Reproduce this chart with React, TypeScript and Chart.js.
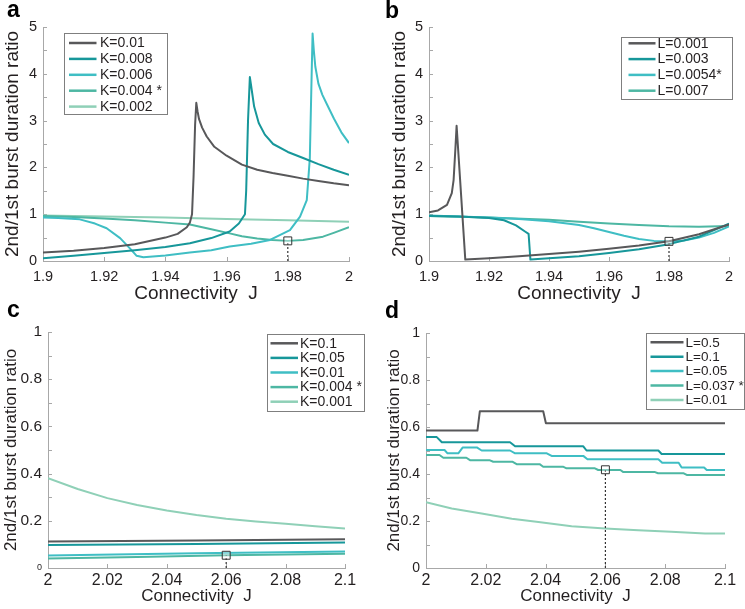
import React, { useEffect, useRef } from 'react';
import { Chart, registerables } from 'chart.js';

Chart.register(...registerables);

const FONT = '"Liberation Sans", Arial, sans-serif';
const INK = '#231f20';
const AXIS = '#a8a8a8';
const C_GRAY = '#58585a';
const C_TEAL = '#17979a';
const C_CYAN = '#3fbec4';
const C_GREEN = '#4db7a3';
const C_MINT = '#8fd0b7';

// ---------------- Panel a (K series) ----------------
const aJ_K0010 = [1.9, 1.91, 1.92, 1.93, 1.94, 1.944, 1.947, 1.948, 1.9487, 1.9492, 1.9497, 1.9501, 1.9505, 1.951, 1.952, 1.9535, 1.956, 1.96, 1.965, 1.97, 1.975, 1.98, 1.985, 1.99, 1.995, 2.0];
const aR_K0010 = [0.18, 0.22, 0.28, 0.36, 0.5, 0.58, 0.72, 0.82, 1.0, 1.8, 2.9, 3.38, 3.2, 3.03, 2.85, 2.66, 2.44, 2.25, 2.06, 1.95, 1.88, 1.82, 1.76, 1.71, 1.66, 1.62];
const aJ_K0008 = [1.9, 1.91, 1.92, 1.93, 1.94, 1.948, 1.955, 1.961, 1.964, 1.966, 1.9664, 1.967, 1.9676, 1.968, 1.969, 1.9705, 1.9725, 1.9752, 1.98, 1.985, 1.99, 1.995, 2.0];
const aR_K0008 = [0.06, 0.11, 0.17, 0.23, 0.3, 0.38, 0.49, 0.63, 0.8, 1.0, 1.5, 3.0, 3.93, 3.75, 3.3, 2.95, 2.7, 2.5, 2.33, 2.2, 2.07, 1.95, 1.84];
const aJ_K0006 = [1.9, 1.905, 1.912, 1.917, 1.9208, 1.9252, 1.9284, 1.9306, 1.9328, 1.94, 1.948, 1.955, 1.961, 1.968, 1.9742, 1.9807, 1.984, 1.9862, 1.9872, 1.9878, 1.9881, 1.9885, 1.989, 1.99, 1.9913, 1.9927, 1.9951, 1.9975, 2.0];
const aR_K0006 = [0.93, 0.92, 0.89, 0.8, 0.7, 0.49, 0.27, 0.11, 0.08, 0.12, 0.18, 0.23, 0.31, 0.37, 0.45, 0.66, 0.95, 1.3, 2.2, 4.0, 4.86, 4.5, 4.15, 3.79, 3.55, 3.36, 3.04, 2.75, 2.52];
const aJ_K0004 = [1.9, 1.91, 1.92, 1.93, 1.94, 1.948, 1.955, 1.961, 1.965, 1.97, 1.975, 1.98, 1.985, 1.9915, 1.995, 2.0];
const aR_K0004 = [0.96, 0.94, 0.91, 0.87, 0.82, 0.78, 0.68, 0.59, 0.53, 0.48, 0.45, 0.43, 0.45, 0.52, 0.6, 0.72];
const aJ_K0002 = [1.9, 1.92, 1.94, 1.96, 1.98, 2.0];
const aR_K0002 = [0.97, 0.95, 0.93, 0.9, 0.87, 0.84];

// ---------------- Panel b (L series) ----------------
const bJ_L0001 = [1.9, 1.903, 1.906, 1.9076, 1.9082, 1.9088, 1.9092, 1.9121, 1.92, 1.93, 1.94, 1.95, 1.96, 1.97, 1.98, 1.99, 2.0];
const bR_L0001 = [1.04, 1.08, 1.2, 1.45, 1.73, 2.4, 2.89, 0.03, 0.06, 0.1, 0.15, 0.2, 0.26, 0.33, 0.42, 0.57, 0.78];
const bJ_L0003 = [1.9, 1.91, 1.92, 1.925, 1.929, 1.932, 1.9332, 1.9338, 1.94, 1.95, 1.96, 1.97, 1.98, 1.99, 2.0];
const bR_L0003 = [0.96, 0.95, 0.92, 0.87, 0.76, 0.63, 0.58, 0.03, 0.06, 0.1, 0.17, 0.25, 0.36, 0.52, 0.8];
const bJ_L0054 = [1.9, 1.91, 1.92, 1.93, 1.94, 1.95, 1.955, 1.96, 1.965, 1.97, 1.975, 1.98, 1.985, 1.99, 1.995, 2.0];
const bR_L0054 = [0.97, 0.95, 0.93, 0.9, 0.85, 0.77, 0.7, 0.62, 0.54, 0.47, 0.43, 0.42, 0.44, 0.5, 0.6, 0.74];
const bJ_L0007 = [1.9, 1.92, 1.94, 1.95, 1.96, 1.97, 1.98, 1.99, 2.0];
const bR_L0007 = [0.96, 0.93, 0.88, 0.84, 0.8, 0.77, 0.74, 0.73, 0.75];

// ---------------- Panel c (K series) ----------------
const cJ_K0100 = [2.0, 2.05, 2.1];
const cR_K0100 = [0.112, 0.117, 0.122];
const cJ_K0050 = [2.0, 2.05, 2.1];
const cR_K0050 = [0.097, 0.102, 0.108];
const cJ_K0010 = [2.0, 2.05, 2.1];
const cR_K0010 = [0.053, 0.062, 0.07];
const cJ_K0004 = [2.0, 2.03, 2.06, 2.1];
const cR_K0004 = [0.04, 0.047, 0.054, 0.06];
const cJ_K0001 = [2.0, 2.01, 2.02, 2.03, 2.04, 2.05, 2.06, 2.07, 2.08, 2.09, 2.1];
const cR_K0001 = [0.381, 0.335, 0.296, 0.267, 0.244, 0.225, 0.209, 0.197, 0.187, 0.177, 0.167];

// ---------------- Panel d (L series) ----------------
const dJ_L0500 = [2.0, 2.0172, 2.018, 2.0392, 2.0401, 2.1];
const dR_L0500 = [0.585, 0.585, 0.667, 0.667, 0.616, 0.616];
const dJ_L0100 = [2.0, 2.0036, 2.0053, 2.0281, 2.0298, 2.0526, 2.0537, 2.0777, 2.0788, 2.1];
const dR_L0100 = [0.557, 0.557, 0.535, 0.535, 0.518, 0.518, 0.5, 0.5, 0.485, 0.485];
const dJ_L0050 = [2.0, 2.0062, 2.0072, 2.0108, 2.0123, 2.017, 2.0186, 2.0281, 2.0298, 2.0404, 2.042, 2.0526, 2.054, 2.0777, 2.079, 2.0845, 2.0855, 2.093, 2.0939, 2.1];
const dR_L0050 = [0.502, 0.502, 0.488, 0.488, 0.513, 0.513, 0.5, 0.5, 0.488, 0.488, 0.477, 0.477, 0.463, 0.463, 0.448, 0.448, 0.428, 0.428, 0.417, 0.417];
const dJ_L0037 = [2.0, 2.0045, 2.0058, 2.0135, 2.0147, 2.0212, 2.0225, 2.029, 2.0303, 2.038, 2.0392, 2.0458, 2.047, 2.0565, 2.0576, 2.065, 2.066, 2.0766, 2.0776, 2.0862, 2.0872, 2.1];
const dR_L0037 = [0.481, 0.481, 0.469, 0.469, 0.459, 0.459, 0.452, 0.452, 0.442, 0.442, 0.431, 0.431, 0.424, 0.424, 0.417, 0.417, 0.408, 0.408, 0.403, 0.403, 0.396, 0.396];
const dJ_L0010 = [2.0, 2.0086, 2.0186, 2.0287, 2.0376, 2.0487, 2.0599, 2.071, 2.082, 2.0933, 2.1];
const dR_L0010 = [0.28, 0.253, 0.232, 0.21, 0.196, 0.178, 0.168, 0.161, 0.154, 0.147, 0.147];

// Highlighted operating points (square markers with dotted drop lines), panels a..d
const markJ = [1.98, 1.98, 2.06, 2.06];
const markR = [0.43, 0.42, 0.054, 0.418];

const X_TITLE = 'Connectivity  J';
const Y_TITLE = '2nd/1st burst duration ratio';

type Series = { label: string; j: number[]; r: number[]; color: string };
type Spec = {
  id: string; letter: string;
  left: number; top: number; w: number; h: number;
  xMin: number; xMax: number; xStep: number;
  yMax: number; yStep: number; yLabelEvery: number;
  series: Series[]; mark: number;
  pad: { left: number; right: number; top: number; bottom: number };
  yW: number; xH: number; xTickSize: number; yTickSize: number; titleSize: number; xTickPad: number; yTickPad: number;
  smallZero: boolean;
  legend: { x: number; y: number; w: number; h: number; row0: number; gap: number; lx1: number; lx2: number; tx: number; font: number };
  letterPos: { x: number; y: number };
};

const PANELS: Spec[] = [
  {
    id: 'a', letter: 'a', left: 0, top: 0, w: 372, h: 305,
    xMin: 1.9, xMax: 2.0, xStep: 0.02, yMax: 5, yStep: 0.5, yLabelEvery: 1,
    series: [
      { label: 'K=0.01', j: aJ_K0010, r: aR_K0010, color: C_GRAY },
      { label: 'K=0.008', j: aJ_K0008, r: aR_K0008, color: C_TEAL },
      { label: 'K=0.006', j: aJ_K0006, r: aR_K0006, color: C_CYAN },
      { label: 'K=0.004 *', j: aJ_K0004, r: aR_K0004, color: C_GREEN },
      { label: 'K=0.002', j: aJ_K0002, r: aR_K0002, color: C_MINT },
    ],
    mark: 0,
    pad: { left: 1, right: 23, top: 27, bottom: 0 }, yW: 42, xH: 44,
    xTickSize: 14.5, yTickSize: 14.5, titleSize: 19, xTickPad: 7, yTickPad: 6, smallZero: false,
    legend: { x: 63.5, y: 33, w: 102.5, h: 81, row0: 43, gap: 15.9, lx1: 69, lx2: 96.5, tx: 100, font: 14 },
    letterPos: { x: 7, y: 17 },
  },
  {
    id: 'b', letter: 'b', left: 372, top: 0, w: 373, h: 305,
    xMin: 1.9, xMax: 2.0, xStep: 0.02, yMax: 5, yStep: 0.5, yLabelEvery: 1,
    series: [
      { label: 'L=0.001', j: bJ_L0001, r: bR_L0001, color: C_GRAY },
      { label: 'L=0.003', j: bJ_L0003, r: bR_L0003, color: C_TEAL },
      { label: 'L=0.0054*', j: bJ_L0054, r: bR_L0054, color: C_CYAN },
      { label: 'L=0.007', j: bJ_L0007, r: bR_L0007, color: C_GREEN },
    ],
    mark: 1,
    pad: { left: 16, right: 16, top: 27, bottom: 0 }, yW: 41, xH: 44,
    xTickSize: 14.5, yTickSize: 14.5, titleSize: 19, xTickPad: 7, yTickPad: 6, smallZero: false,
    legend: { x: 248.5, y: 36.5, w: 111, h: 62, row0: 43.3, gap: 15.8, lx1: 256.5, lx2: 283.5, tx: 285.5, font: 14 },
    letterPos: { x: 13, y: 17.5 },
  },
  {
    id: 'c', letter: 'c', left: 0, top: 300, w: 372, h: 309,
    xMin: 2.0, xMax: 2.1, xStep: 0.02, yMax: 1, yStep: 0.1, yLabelEvery: 0.2,
    series: [
      { label: 'K=0.1', j: cJ_K0100, r: cR_K0100, color: C_GRAY },
      { label: 'K=0.05', j: cJ_K0050, r: cR_K0050, color: C_TEAL },
      { label: 'K=0.01', j: cJ_K0010, r: cR_K0010, color: C_CYAN },
      { label: 'K=0.004 *', j: cJ_K0004, r: cR_K0004, color: C_GREEN },
      { label: 'K=0.001', j: cJ_K0001, r: cR_K0001, color: C_MINT },
    ],
    mark: 2,
    pad: { left: 1.5, right: 27, top: 32, bottom: 2 }, yW: 46.5, xH: 39,
    xTickSize: 16, yTickSize: 15.5, titleSize: 17, xTickPad: 3, yTickPad: 6, smallZero: true,
    legend: { x: 266.5, y: 33.5, w: 96.5, h: 76.5, row0: 43.3, gap: 14.6, lx1: 270.5, lx2: 298, tx: 300, font: 14 },
    letterPos: { x: 7, y: 17 },
  },
  {
    id: 'd', letter: 'd', left: 372, top: 300, w: 373, h: 309,
    xMin: 2.0, xMax: 2.1, xStep: 0.02, yMax: 1, yStep: 0.1, yLabelEvery: 0.2,
    series: [
      { label: 'L=0.5', j: dJ_L0500, r: dR_L0500, color: C_GRAY },
      { label: 'L=0.1', j: dJ_L0100, r: dR_L0100, color: C_TEAL },
      { label: 'L=0.05', j: dJ_L0050, r: dR_L0050, color: C_CYAN },
      { label: 'L=0.037 *', j: dJ_L0037, r: dR_L0037, color: C_GREEN },
      { label: 'L=0.01', j: dJ_L0010, r: dR_L0010, color: C_MINT },
    ],
    mark: 3,
    pad: { left: 12, right: 20, top: 33, bottom: 2 }, yW: 42, xH: 39,
    xTickSize: 16, yTickSize: 14, titleSize: 17, xTickPad: 3, yTickPad: 6, smallZero: false,
    legend: { x: 273.5, y: 33, w: 98, h: 75.5, row0: 42.3, gap: 14.4, lx1: 278.5, lx2: 311.5, tx: 313.5, font: 13.5 },
    letterPos: { x: 13, y: 18 },
  },
];

function pts(j: number[], r: number[]) {
  return j.map((x, i) => ({ x, y: r[i] }));
}

function fmt(v: number) {
  return String(+Number(v).toFixed(3));
}

function makeDecor(spec: Spec) {
  return {
    id: 'decor_' + spec.id,
    beforeDatasetsDraw(chart: any) {
      const { ctx, chartArea: ca, scales } = chart;
      ctx.save();
      ctx.strokeStyle = AXIS;
      ctx.lineWidth = 1;
      ctx.beginPath();
      for (const t of scales.y.ticks) {
        const py = Math.round(scales.y.getPixelForValue(t.value)) + 0.5;
        ctx.moveTo(ca.left, py);
        ctx.lineTo(ca.left + 4, py);
      }
      for (const t of scales.x.ticks) {
        const px = Math.round(scales.x.getPixelForValue(t.value)) + 0.5;
        ctx.moveTo(px, ca.bottom);
        ctx.lineTo(px, ca.bottom - 4);
      }
      ctx.stroke();
      ctx.restore();
    },
    afterDraw(chart: any) {
      const { ctx } = chart;
      const L = spec.legend;
      ctx.save();
      ctx.fillStyle = '#ffffff';
      ctx.fillRect(L.x, L.y, L.w, L.h);
      ctx.strokeStyle = '#7f7f7f';
      ctx.lineWidth = 1;
      ctx.strokeRect(Math.round(L.x) + 0.5, Math.round(L.y) + 0.5, Math.round(L.w), Math.round(L.h));
      ctx.font = `${L.font}px ${FONT}`;
      ctx.textBaseline = 'middle';
      ctx.textAlign = 'left';
      spec.series.forEach((s, i) => {
        const y = L.row0 + i * L.gap;
        ctx.strokeStyle = s.color;
        ctx.lineWidth = 2.5;
        ctx.beginPath();
        ctx.moveTo(L.lx1, y);
        ctx.lineTo(L.lx2, y);
        ctx.stroke();
        ctx.fillStyle = INK;
        ctx.fillText(s.label, L.tx, y + 0.5);
      });
      ctx.font = `bold 23px ${FONT}`;
      ctx.textBaseline = 'alphabetic';
      ctx.fillStyle = '#000';
      ctx.fillText(spec.letter, spec.letterPos.x, spec.letterPos.y);
      ctx.restore();
    },
  };
}

function buildConfig(spec: Spec): any {
  const mj = markJ[spec.mark];
  const mr = markR[spec.mark];
  const datasets: any[] = spec.series.map((s) => ({
    label: s.label,
    data: pts(s.j, s.r),
    borderColor: s.color,
    backgroundColor: s.color,
    borderWidth: 2,
    pointRadius: 0,
    tension: 0,
    borderJoinStyle: 'round',
    fill: false,
  }));
  datasets.push({
    label: 'drop',
    data: [{ x: mj, y: 0 }, { x: mj, y: mr }],
    borderColor: '#333333',
    borderWidth: 1.2,
    borderDash: [2, 2],
    pointRadius: 0,
    fill: false,
    order: -1,
  });
  datasets.push({
    label: 'mark',
    data: [{ x: mj, y: mr }],
    showLine: false,
    pointStyle: 'rect',
    pointRadius: 5.6,
    pointBorderColor: '#333333',
    pointBorderWidth: 1,
    pointBackgroundColor: 'rgba(255,255,255,0.35)',
    order: -2,
  });

  const xTickFont = { family: FONT, size: spec.xTickSize };
  const yTickFont = { family: FONT, size: spec.yTickSize };
  const titleFont = { family: FONT, size: spec.titleSize };

  return {
    type: 'line',
    data: { datasets },
    options: {
      animation: false,
      responsive: false,
      maintainAspectRatio: false,
      events: [],
      layout: { padding: spec.pad },
      plugins: { legend: { display: false }, tooltip: { enabled: false }, title: { display: false } },
      scales: {
        x: {
          type: 'linear',
          min: spec.xMin,
          max: spec.xMax,
          grid: { display: false, drawTicks: false },
          border: { display: true, color: AXIS, width: 1 },
          ticks: {
            stepSize: spec.xStep,
            autoSkip: false,
            maxRotation: 0,
            padding: spec.xTickPad,
            color: INK,
            font: xTickFont,
            callback: (v: number) => fmt(v),
          },
          title: { display: true, text: X_TITLE, color: INK, font: titleFont, padding: 0 },
          afterFit: (s: any) => { s.height = spec.xH; },
        },
        y: {
          type: 'linear',
          min: 0,
          max: spec.yMax,
          grid: { display: false, drawTicks: false },
          border: { display: true, color: AXIS, width: 1 },
          ticks: {
            stepSize: spec.yStep,
            autoSkip: false,
            padding: spec.yTickPad,
            color: INK,
            font: (c: any) =>
              spec.smallZero && c.tick && Math.abs(c.tick.value) < 1e-9
                ? { family: FONT, size: 9 }
                : yTickFont,
            callback: (v: number) => {
              const k = v / spec.yLabelEvery;
              return Math.abs(k - Math.round(k)) < 1e-6 ? fmt(v) : '';
            },
          },
          title: { display: true, text: Y_TITLE, color: INK, font: titleFont, padding: 0 },
          afterFit: (s: any) => { s.width = spec.yW; },
        },
      },
    },
    plugins: [makeDecor(spec)],
  };
}

function Panel({ spec }: { spec: Spec }) {
  const ref = useRef<HTMLCanvasElement>(null);
  useEffect(() => {
    if (!ref.current) return;
    const chart = new Chart(ref.current, buildConfig(spec));
    return () => chart.destroy();
  }, [spec]);
  return (
    <canvas
      ref={ref}
      width={spec.w}
      height={spec.h}
      style={{ position: 'absolute', left: spec.left, top: spec.top, width: spec.w, height: spec.h }}
    />
  );
}

export default function App() {
  return (
    <div
      style={{
        position: 'fixed',
        left: 0,
        top: 0,
        width: 745,
        height: 609,
        background: '#ffffff',
        overflow: 'hidden',
      }}
    >
      {PANELS.map((p) => (
        <Panel key={p.id} spec={p} />
      ))}
    </div>
  );
}
